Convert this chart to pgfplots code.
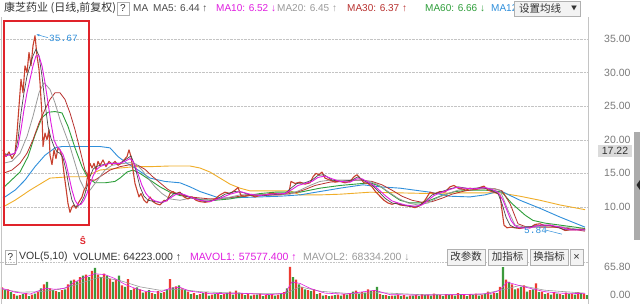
\documentclass[border=0pt]{standalone}
\usepackage{pgfplots}
\pgfplotsset{compat=1.18}
\usetikzlibrary{arrows.meta}
\usepackage{fontspec}
\setmainfont{Liberation Sans}
\newfontfamily\cjk{Noto Sans CJK SC}
\newfontfamily\mono{Liberation Mono}
\definecolor{hdr}{HTML}{333333}
\definecolor{ma5c}{HTML}{4A4A4A}
\definecolor{ma10c}{HTML}{E01EE0}
\definecolor{ma20c}{HTML}{9A9A9A}
\definecolor{ma30c}{HTML}{B8312F}
\definecolor{ma60c}{HTML}{2E9E3A}
\definecolor{ma120c}{HTML}{2F8FDB}
\definecolor{ma250c}{HTML}{F0AE2A}
\definecolor{pricec}{HTML}{C8402E}
\definecolor{volred}{HTML}{EE3B30}
\definecolor{volgreen}{HTML}{3C9A3C}
\definecolor{gridc}{HTML}{C4C4C4}
\definecolor{labc}{HTML}{7A7A7A}
\definecolor{framec}{HTML}{E0232A}
\definecolor{btnfill}{HTML}{F3F3F3}
\definecolor{btndraw}{HTML}{B0B0B0}
\begin{document}
\begin{tikzpicture}[x=1pt,y=1pt]
\fill[white] (0,0) rectangle (640,304);
\useasboundingbox (0,0) rectangle (640,304);
% price panel
\begin{axis}[at={(0pt,61pt)}, anchor=south west, scale only axis,
  width=588pt, height=223pt, xmin=0, xmax=588, ymin=4.64, ymax=37.83,
  axis line style={draw=none}, xtick=\empty,
  ytick={10,15,20,25,30,35}, yticklabels={10.00,15.00,20.00,25.00,30.00,35.00},
  yticklabel pos=right, ymajorgrids, grid style={densely dotted, draw=gridc},
  major tick length=0pt,
  yticklabel style={font=\fontsize{10.5}{12}\selectfont, text=labc, anchor=east, xshift=46pt},
  line join=round]
\addplot[ma250c, line width=0.9pt] coordinates {(3,10) (15,11) (30,12.5) (50,14.3) (70,14.5) (85,14.5) (100,15.5) (120,15.8) (135,16) (150,16) (170,16.1) (190,16.1) (200,15.8) (210,15.2) (220,14.3) (230,13.4) (240,12.8) (250,12.4) (270,12.4) (290,12.4) (300,11.8) (320,11.8) (340,11.9) (370,12.2) (400,12.1) (430,12) (460,12.1) (490,12.1) (500,12.1) (520,11.6) (540,11) (560,10.3) (585,9.6)};
\addplot[ma120c, line width=0.9pt] coordinates {(3,11.3) (15,12.5) (25,14) (35,16) (45,17.7) (55,18.8) (62,19) (80,19) (100,19) (110,18.8) (118,17.5) (127,16.5) (135,15.8) (150,14.3) (165,13.8) (180,13.6) (190,13) (200,12.3) (210,11.8) (220,11.3) (240,11.4) (260,11.5) (280,11.6) (300,11.8) (320,12.3) (340,12.8) (363,13.3) (380,13) (400,12.8) (415,12.5) (430,12.2) (450,11.6) (470,11.5) (485,11.8) (495,12.2) (502,12.3) (520,11) (540,9.8) (560,8.5) (585,7)};
\addplot[ma60c, line width=0.9pt] coordinates {(3,12.8) (10,13.8) (20,15.2) (28,17.5) (35,20.7) (42,23.3) (48,24.1) (55,24.2) (62,24) (68,22) (75,18.8) (82,16) (88,14.3) (95,13.6) (105,13.6) (115,13.8) (120,14.3) (127,15.2) (133,15.5) (140,15) (150,14) (160,13) (170,12.2) (180,11.7) (190,11.5) (200,11.1) (215,11) (230,11.2) (245,11.6) (260,12) (275,12.2) (290,12.2) (300,12.2) (320,12.8) (340,13.2) (355,13.4) (370,13.6) (380,13.1) (390,12) (400,11) (410,10.6) (420,10.6) (430,11) (440,11.6) (455,12.3) (470,12.5) (485,12.5) (495,12.4) (502,12.2) (512,10.5) (525,8.8) (533,8) (545,7.6) (560,7.3) (575,7) (585,6.8)};
\addplot[ma30c, line width=0.8pt] coordinates {(3,15) (12,15.5) (20,16.5) (27,18) (33,20) (39,22.5) (45,24.5) (50,26) (55,27) (60,27) (65,26) (70,24) (75,21.5) (80,18.5) (85,15.5) (90,14) (95,14) (100,14.5) (110,15.5) (120,16) (130,16.3) (138,16.2) (145,15.6) (152,14.6) (160,13.6) (168,12.6) (176,12) (186,11.6) (196,11.4) (210,11.2) (225,11.3) (240,11.6) (260,11.8) (280,11.8) (295,12.1) (305,12.6) (315,13.2) (330,13.7) (345,13.9) (360,14) (372,13.8) (382,13.3) (392,12.5) (402,11.6) (412,11) (422,10.7) (432,10.8) (442,11.3) (452,11.9) (465,12.4) (480,12.7) (495,12.7) (502,12.4) (510,10.5) (518,7.5) (525,7.1) (540,7) (560,7) (585,6.4)};
\addplot[ma20c, line width=0.8pt] coordinates {(3,16.5) (12,16.8) (20,18) (27,20.5) (33,23.5) (39,27) (44,28.5) (50,27.5) (55,25.5) (60,23) (65,21) (70,19) (75,16.5) (80,14) (85,12.5) (90,12.5) (95,13.5) (100,14.5) (105,15.5) (112,16.2) (120,16.4) (130,16.6) (136,16.4) (142,15.5) (148,14.3) (155,13) (162,12) (170,11.2) (180,11) (190,11.3) (200,11.2) (210,11) (225,11.3) (240,11.8) (255,11.9) (270,11.8) (290,11.9) (300,12.5) (310,13.2) (320,13.8) (330,14) (345,14) (360,14) (370,13.8) (378,13.3) (388,12.3) (398,11.3) (408,10.6) (418,10.3) (428,10.6) (438,11.4) (448,12) (460,12.6) (475,12.8) (490,12.8) (500,12.5) (508,9.5) (515,7.3) (525,7) (535,7) (550,7.2) (565,7) (585,6.5)};
\addplot[pricec, line width=1.1pt] coordinates {(3,18.5) (6,17.5) (9,18.2) (12,17.2) (15,18) (17,21) (19,25) (21,29) (23,27) (25,31) (27,30) (29,33) (31,31) (33,34) (35,35.5) (37,32.5) (39,30.5) (40,28.5) (42,23.7) (43,19) (45,21) (47,20) (49,21.5) (50,17.7) (52,16.3) (54,18.5) (56,17.2) (58,18.8) (60,18.5) (62,17.5) (64,15) (66,12.8) (68,10.5) (70,9.2) (72,10) (74,10.3) (76,9.8) (78,10.5) (80,11) (82,11.5) (84,12.5) (86,13) (88,15) (90,16.5) (92,15.8) (94,16.5) (96,15.5) (98,16.8) (100,16.2) (103,17) (106,16) (109,16.8) (112,16.3) (115,16.8) (118,16.2) (121,16.5) (124,17) (127,17.5) (129,18.5) (131,17.5) (133,15.5) (135,13.5) (137,12.5) (139,11.5) (141,12) (144,11) (147,10.6) (150,11.5) (153,10.8) (156,10.5) (160,10.3) (164,11) (167,10.9) (170,12) (173,12.3) (176,12) (180,12.2) (184,11.5) (188,11.2) (192,11.5) (196,11) (200,10.8) (205,10.7) (210,10.8) (215,11.2) (220,11.8) (225,12.2) (230,12) (235,12.5) (238,12.9) (241,11.7) (245,11.6) (250,11.8) (255,11.5) (260,11.7) (265,11.8) (270,12) (275,12) (280,11.9) (285,12) (289,12.2) (291,13.8) (295,13.5) (300,13.7) (305,13.4) (310,13.6) (313,14.5) (316,15) (319,14.8) (322,15.2) (325,14.3) (330,14) (335,13.7) (340,13.8) (345,13.6) (350,13.8) (354,14.5) (357,14.8) (360,14.3) (364,13.6) (368,13.5) (372,13) (376,12.2) (380,11.6) (384,11) (388,10.6) (392,10.4) (396,10.6) (400,10.3) (405,10.2) (410,10.1) (415,9.9) (420,10.2) (425,11) (430,12.2) (435,12) (440,12.3) (445,12.2) (450,13) (454,13.2) (458,12.8) (462,12.7) (466,12.5) (470,12.8) (475,12.6) (480,12.9) (484,13.1) (488,12.5) (492,12.3) (496,12.1) (500,11.8) (502,9.5) (504,7.3) (507,6.9) (511,7) (515,6.9) (520,6.8) (525,7) (530,6.9) (535,7.4) (540,7.5) (545,7.2) (550,7.3) (555,7) (560,6.9) (565,6.5) (570,6.6) (575,6.6) (580,6.7) (585,6.7)};
\addplot[ma5c, line width=0.7pt] coordinates {(3,18) (10,17.7) (15,18) (18,20) (21,24) (24,27) (27,29.5) (30,31) (33,32.5) (36,33.5) (39,32.5) (42,29.5) (45,25.5) (48,22) (51,20.2) (54,19) (57,18.2) (60,18) (63,17.3) (66,15.5) (69,13) (72,11) (75,10.1) (78,10.1) (81,10.6) (84,11.5) (87,13) (90,14.5) (93,15.6) (96,16) (100,16.2) (110,16.5) (120,16.5) (127,17.2) (131,17.6) (134,16.5) (137,14.8) (140,13) (144,11.6) (148,11) (155,10.8) (162,10.6) (168,11.2) (174,12) (180,12.1) (188,11.5) (196,11.2) (205,10.8) (215,11) (225,11.9) (235,12.3) (242,12.2) (250,11.8) (265,11.7) (285,12) (291,12.8) (297,13.5) (305,13.6) (312,14) (318,14.7) (324,14.8) (332,14) (342,13.8) (352,14) (358,14.5) (364,13.9) (372,13.3) (378,12.4) (385,11.3) (392,10.6) (400,10.4) (410,10.1) (418,10.1) (425,10.8) (432,11.8) (440,12.2) (450,12.7) (458,13) (470,12.7) (482,12.9) (490,12.6) (498,12) (502,10.5) (506,8.5) (510,7.3) (515,6.9) (525,6.9) (535,7.2) (545,7.3) (555,7.1) (565,6.6) (585,6.7)};
\addplot[ma10c, line width=0.9pt] coordinates {(3,17.5) (10,17.8) (15,18) (18,19) (21,21.5) (24,24.5) (27,27) (30,29) (33,31) (36,32.5) (39,32.5) (42,31) (45,28.5) (48,25.5) (51,22.5) (54,20) (57,19) (60,18.5) (63,17.8) (66,16.5) (69,14.5) (72,12.5) (75,11) (78,10.3) (81,10.4) (84,11) (87,12) (90,13.3) (93,14.6) (96,15.5) (100,16) (105,16.3) (110,16.5) (115,16.5) (120,16.5) (125,16.8) (130,17.2) (133,16.8) (136,15.8) (139,14.5) (142,13.2) (146,12) (150,11.3) (155,10.9) (160,10.7) (165,10.8) (170,11.3) (175,11.8) (180,12) (185,11.8) (190,11.5) (195,11.2) (200,11) (210,10.8) (220,11.3) (230,11.9) (240,12.3) (250,11.9) (260,11.7) (270,11.9) (285,12) (292,12.6) (298,13.2) (305,13.5) (312,13.8) (318,14.4) (325,14.6) (332,14.2) (340,13.8) (350,13.7) (357,14.2) (362,14.2) (368,13.7) (374,13.2) (380,12.4) (386,11.6) (392,10.9) (398,10.6) (405,10.3) (415,10.1) (422,10.3) (428,11) (434,11.7) (440,12.1) (448,12.5) (456,12.9) (465,12.8) (475,12.7) (485,12.9) (492,12.6) (498,12.2) (503,11) (507,9.5) (511,8) (515,7.2) (520,6.9) (530,6.9) (540,7.3) (550,7.3) (560,7) (570,6.6) (585,6.6)};
\draw[ma120c, line width=0.5pt, -{Stealth[length=3pt]}] (axis cs:48,35.2) -- (axis cs:36.5,35.67);
\node[anchor=west, text=ma120c, font=\mono\fontsize{9.5}{10}\selectfont, inner sep=0pt] at (axis cs:49,35.15) {35.67};
\draw[ma120c, line width=0.5pt] (axis cs:546,6.55) -- (axis cs:562,5.95);
\node[anchor=west, text=ma120c, font=\mono\fontsize{9.5}{10}\selectfont, inner sep=0pt] at (axis cs:524,6.58) {5.84};
\end{axis}
% volume panel
\begin{axis}[at={(0pt,5pt)}, anchor=south west, scale only axis,
  width=588pt, height=37pt, xmin=0, xmax=588, ymin=0, ymax=76.1,
  axis line style={draw=none}, xtick=\empty,
  ytick={65.8}, yticklabels={65.80}, extra y ticks={0}, extra y tick labels={0.00},
  extra y tick style={yticklabel style={yshift=4pt}},
  yticklabel pos=right, major tick length=0pt,
  yticklabel style={font=\fontsize{10.5}{12}\selectfont, text=labc, anchor=east, xshift=46pt}]
\addplot[ybar, bar width=2.3pt, bar shift=0pt, fill=volred, draw=none] coordinates {(2,24) (8,20) (14,10) (20,8) (26,12) (32,9) (38,14) (44,30) (50,22) (56,16) (62,18) (68,30) (74,40) (80,45) (86,50) (92,58) (98,50) (104,52) (110,42) (116,40) (122,28) (128,41) (134,22) (140,20) (146,15) (152,12) (158,16) (164,14) (170,41) (176,26) (182,22) (188,15) (194,12) (200,10) (206,14) (212,9) (218,12) (224,10) (230,15) (236,17) (242,12) (248,10) (254,9) (260,11) (266,8) (272,10) (278,9) (284,14) (290,66) (296,40) (302,25) (308,18) (314,20) (320,12) (326,8) (332,7) (338,9) (344,10) (350,12) (356,17) (362,14) (368,20) (374,18) (380,10) (386,8) (392,7) (398,9) (404,8) (410,7) (416,8) (422,10) (428,9) (434,11) (440,8) (446,10) (452,9) (458,12) (464,8) (470,10) (476,11) (482,9) (488,15) (494,12) (500,25) (506,40) (512,30) (518,22) (524,28) (530,18) (536,32) (542,15) (548,12) (554,14) (560,10) (566,13) (572,11) (578,14) (584,10)};
\addplot[ybar, bar width=2.3pt, bar shift=0pt, fill=volgreen, draw=none] coordinates {(5,18) (11,14) (17,7) (23,10) (29,6) (35,11) (41,22) (47,35) (53,18) (59,14) (65,20) (71,38) (77,36) (83,48) (89,45) (95,64) (101,45) (107,48) (113,35) (119,48) (125,25) (131,18) (137,24) (143,13) (149,18) (155,10) (161,12) (167,20) (173,24) (179,28) (185,18) (191,10) (197,8) (203,12) (209,7) (215,10) (221,8) (227,12) (233,9) (239,13) (245,8) (251,7) (257,9) (263,6) (269,8) (275,7) (281,10) (287,22) (293,45) (299,30) (305,20) (311,16) (317,10) (323,7) (329,6) (335,8) (341,7) (347,9) (353,15) (359,10) (365,13) (371,16) (377,25) (383,8) (389,6) (395,7) (401,6) (407,5) (413,7) (419,6) (425,8) (431,7) (437,9) (443,6) (449,8) (455,7) (461,10) (467,6) (473,8) (479,7) (485,10) (491,9) (497,12) (503,65.8) (509,35) (515,20) (521,25) (527,15) (533,20) (539,14) (545,10) (551,9) (557,11) (563,8) (569,10) (575,9) (581,12) (587,8)};
\addplot[ma20c, line width=0.6pt] coordinates {(2,20) (20,14) (40,15) (60,20) (80,32) (100,45) (120,38) (140,25) (160,18) (180,20) (200,15) (250,11) (285,11) (300,25) (320,16) (350,11) (380,13) (420,9) (480,9) (505,20) (520,28) (545,18) (585,12)};
\addplot[ma10c, line width=0.6pt] coordinates {(2,22) (15,14) (30,10) (45,22) (55,20) (65,22) (75,35) (85,45) (95,52) (105,50) (115,42) (125,30) (135,22) (145,16) (160,14) (170,22) (180,24) (190,16) (210,11) (240,12) (270,9) (285,12) (292,35) (300,32) (310,22) (325,12) (345,10) (360,14) (375,18) (390,9) (420,8) (460,9) (490,11) (500,18) (507,35) (515,30) (530,22) (545,15) (560,12) (585,11)};
\end{axis}
% frame lines
\draw[gridc, line width=0.6pt] (588,0) -- (588,287);
\draw[gridc, line width=0.5pt] (1,0) -- (1,287);
\draw[gridc, densely dotted, line width=0.6pt] (0,42) -- (588,42);
\draw[framec, line width=2.6pt] (4,79) rectangle (89,283);
\node[text=framec, font=\bfseries\fontsize{9}{10}\selectfont, inner sep=0pt] at (83,63) {Ŝ};
% header
\begin{scope}[every node/.style={inner sep=0pt, anchor=west}]
\node[text=hdr, font=\cjk\fontsize{11}{12}\selectfont] at (4,296) {康芝药业 (日线,前复权)};
\draw[btndraw, line width=0.5pt] (117,289) rectangle (129,302);
\node[text=hdr, font=\fontsize{10}{12}\selectfont, anchor=center] at (123,295.5) {?};
\node[text=ma5c, font=\fontsize{10}{12}\selectfont] at (133,296) {MA};
\node[text=ma5c, font=\fontsize{10}{12}\selectfont] at (153,296) {MA5: 6.44 ↑};
\node[text=ma10c, font=\fontsize{10}{12}\selectfont] at (216,296) {MA10: 6.52 ↓};
\node[text=ma20c, font=\fontsize{10}{12}\selectfont] at (277,296) {MA20: 6.45 ↑};
\node[text=ma30c, font=\fontsize{10}{12}\selectfont] at (347,296) {MA30: 6.37 ↑};
\node[text=ma60c, font=\fontsize{10}{12}\selectfont] at (425,296) {MA60: 6.66 ↓};
\node[text=ma120c, font=\fontsize{10}{12}\selectfont] at (491,296) {MA120};
\filldraw[fill=btnfill, draw=btndraw, line width=0.5pt] (514,288) rectangle (580,303);
\node[text=hdr, font=\cjk\fontsize{10.5}{12}\selectfont] at (519,295.5) {设置均线};
\node[text=hdr, font=\cjk\fontsize{6}{7}\selectfont, anchor=center] at (574,295.5) {▼};
% volume header
\draw[btndraw, line width=0.5pt] (5,40) rectangle (16,54);
\node[text=hdr, font=\fontsize{10}{12}\selectfont, anchor=center] at (10.5,47) {?};
\node[text=hdr, font=\fontsize{10.5}{12}\selectfont] at (19,47) {VOL(5,10)};
\node[text=hdr, font=\fontsize{10.5}{12}\selectfont] at (73,47) {VOLUME: 64223.000 ↑};
\node[text=ma10c, font=\fontsize{10.5}{12}\selectfont] at (190,47) {MAVOL1: 57577.400 ↑};
\node[text=ma20c, font=\fontsize{10.5}{12}\selectfont] at (303,47) {MAVOL2: 68334.200 ↓};
\filldraw[fill=btnfill, draw=btndraw, line width=0.5pt] (447,39) rectangle (485,55);
\node[text=hdr, font=\cjk\fontsize{10.5}{12}\selectfont, anchor=center] at (466,47) {改参数};
\filldraw[fill=btnfill, draw=btndraw, line width=0.5pt] (488,39) rectangle (527,55);
\node[text=hdr, font=\cjk\fontsize{10.5}{12}\selectfont, anchor=center] at (507.5,47) {加指标};
\filldraw[fill=btnfill, draw=btndraw, line width=0.5pt] (530,39) rectangle (568,55);
\node[text=hdr, font=\cjk\fontsize{10.5}{12}\selectfont, anchor=center] at (549,47) {换指标};
\filldraw[fill=btnfill, draw=btndraw, line width=0.5pt] (570,39) rectangle (583,55);
\node[text=hdr, font=\fontsize{11}{12}\selectfont, anchor=center] at (576.5,47) {×};
\end{scope}
% right panel extras
\node[fill=black!14, text=hdr, font=\fontsize{10.5}{12}\selectfont, inner sep=1.5pt, minimum width=34pt, minimum height=12pt] at (615,153) {17.22};
\fill[black!33] (634,64) rectangle (640,172);
\fill[black!85] (640,114) -- (636.5,119) -- (640,124) -- cycle;
\end{tikzpicture}
\end{document}
